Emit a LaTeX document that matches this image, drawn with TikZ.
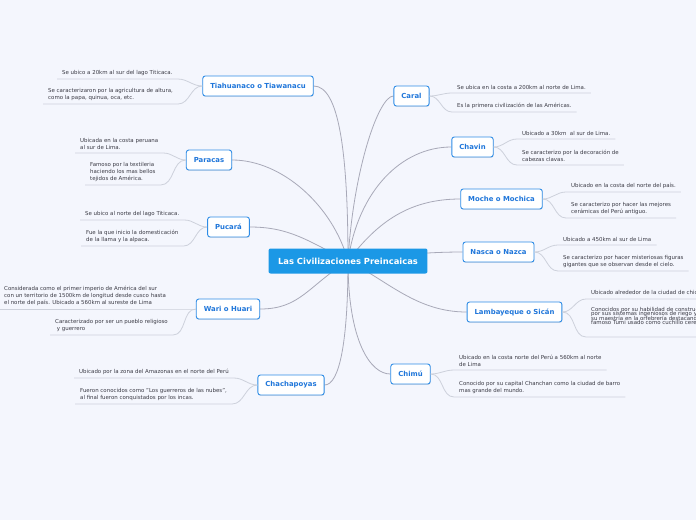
\documentclass[tikz,border=0pt]{standalone}
\usepackage{fontspec}
\setmainfont{DejaVu Sans}
\usepackage{xcolor}
\usetikzlibrary{backgrounds,shadows}
\definecolor{colFondo}{HTML}{F4F6FD}
\definecolor{colAzul}{HTML}{1F76DA}
\definecolor{colBorde}{HTML}{2E8CE6}
\definecolor{colCentro}{HTML}{1B98E6}
\definecolor{colRama}{HTML}{A8A9B8}
\definecolor{colHoja}{HTML}{CDD1DB}
\definecolor{colTexto}{HTML}{3A3A44}
\newcommand\apretado{\lineskiplimit=-20pt\relax}

\begin{document}
\begin{tikzpicture}[
    x=1pt, y=1pt,
    raiz/.style={fill=colCentro, text=white, font=\fontsize{8.4}{9}\selectfont\bfseries,
        rounded corners=2pt, minimum height=25pt, inner xsep=9.5pt},
    tema/.style={draw=colBorde, line width=0.9pt, fill=white, text=colAzul,
        font=\fontsize{6.9}{8}\selectfont\bfseries, rounded corners=2.5pt,
        minimum height=20pt, inner xsep=7.5pt,
        drop shadow={opacity=0.18, shadow xshift=0.4pt, shadow yshift=-0.9pt}},
    hoja/.style={anchor=south west, align=left, text=colTexto,
        font=\fontsize{5.45}{7}\selectfont, inner xsep=5pt, inner ysep=3pt},
    rama/.style={draw=colRama, line width=0.8pt},
    linea/.style={draw=colHoja, line width=0.8pt}
]
\useasboundingbox (0,0) rectangle (696,-520);
\clip (0,0) rectangle (696,-520);

% nodo central
\node[raiz] (cen) at (348,-261) {Las Civilizaciones Preincaicas};

% temas de la izquierda
\node[tema] (tia) at (258,-86) {Tiahuanaco o Tiawanacu};
\node[tema] (par) at (209,-160) {Paracas};
\node[tema] (puc) at (228.5,-227) {Pucará};
\node[tema] (war) at (228,-309) {Wari o Huari};
\node[tema] (cha) at (291,-385) {Chachapoyas};

% temas de la derecha
\node[tema] (car) at (411.5,-96) {Caral};
\node[tema] (chv) at (472.5,-147) {Chavin};
\node[tema] (moc) at (501.5,-199) {Moche o Mochica};
\node[tema] (nas) at (498.5,-252) {Nasca o Nazca};
\node[tema] (lam) at (514.5,-312) {Lambayeque o Sicán};
\node[tema] (chi) at (410.5,-374) {Chimú};

% hojas de la izquierda
\node[hoja] (tl1) at (57,-79) {Se ubico a 20km al sur del lago Titicaca.};
\node[hoja] (tl2) at (43,-104) {Se caracterizaron por la agricultura de altura,\\como la papa, quinua, oca, etc.};
\node[hoja] (pl1) at (75,-153) {Ubicada en la costa peruana\\al sur de Lima.};
\node[hoja] (pl2) at (85,-185) {Famoso por la textileria\\haciendo los mas bellos\\tejidos de América.};
\node[hoja] (ul1) at (80,-220) {Se ubico al norte del lago Titicaca.};
\node[hoja] (ul2) at (81,-246) {Fue la que inicio la domesticación\\de la llama y la alpaca.};
\node[hoja] (wl1) at (-1,-309) {Considerada como el primer imperio de América del sur\\con un territorio de 1500km de longitud desde cusco hasta\\el norte del país. Ubicado a 560km al sureste de Lima};
\node[hoja] (wl2) at (50,-335) {Caracterizado por ser un pueblo religioso\\\ y guerrero};
\node[hoja] (hl1) at (74,-378) {Ubicado por la zona del Amazonas en el norte del Perú};
\node[hoja] (hl2) at (75,-404) {Fueron conocidos como "Los guerreros de las nubes",\\al final fueron conquistados por los incas.};

% hojas de la derecha
\node[hoja] (cl1) at (452,-93) {Se ubica en la costa a 200km al norte de Lima.};
\node[hoja] (cl2) at (452,-112) {Es la primera civilización de las Américas.};
\node[hoja] (vl1) at (517,-139) {Ubicado a 30km\ \ al sur de Lima.};
\node[hoja] (vl2) at (517,-165) {Se caracterizo por la decoración de\\cabezas clavas.};
\node[hoja] (ml1) at (566,-192) {Ubicado en la costa del norte del país.};
\node[hoja] (ml2) at (566,-218) {Se caracterizo por hacer las mejores\\cerámicas del Perú antiguo.};
\node[hoja] (nl1) at (558,-245) {Ubicado a 450km al sur de Lima};
\node[hoja] (nl2) at (558,-271) {Se caracterizo por hacer misteriosas figuras\\gigantes que se observan desde el cielo.};
\node[hoja] (bl1) at (586,-299) {Ubicado alrededor de la ciudad de chiclayo};
\node[hoja, font=\fontsize{5.45}{4.6}\selectfont\apretado] (bl2) at (586,-337) {Conocidos por su habilidad de construcción\\por sus sistemas ingeniosos de riego y\\su maestría en la orfebrería destacando el\\famoso Tumi usado como cuchillo ceremonial\rule[-9pt]{0pt}{0pt}};
\node[hoja] (il1) at (454,-370) {Ubicado en la costa norte del Perú a 560km al norte\\de Lima};
\node[hoja] (il2) at (454,-397) {Conocido por su capital Chanchan como la ciudad de barro\\mas grande del mundo.};

% ramas principales (detras de los nodos)
\begin{scope}[on background layer]
\fill[colFondo] (0,0) rectangle (696,-520);
\draw[rama] (cen.center) .. controls +(0,110) and +(25,0) .. (tia.east);
\draw[rama] (cen.center) .. controls +(-15,55) and +(50,0) .. (par.east);
\draw[rama] (cen.center) .. controls +(-40,20) and +(40,0) .. (puc.east);
\draw[rama] (cen.center) .. controls +(-40,-25) and +(40,0) .. (war.east);
\draw[rama] (cen.center) .. controls +(0,-80) and +(15,0) .. (cha.east);
\draw[rama] (cen.center) .. controls +(5,90) and +(-15,0) .. (car.west);
\draw[rama] (cen.center) .. controls +(10,70) and +(-50,0) .. (chv.west);
\draw[rama] (cen.center) .. controls +(30,40) and +(-50,0) .. (moc.west);
\draw[rama] (cen.center) .. controls +(40,5) and +(-40,0) .. (nas.west);
\draw[rama] (cen.center) .. controls +(40,-20) and +(-50,0) .. (lam.west);
\draw[rama] (cen.center) .. controls +(0,-80) and +(-20,0) .. (chi.west);
\end{scope}

% conexiones con las hojas
\draw[linea] (tia.west) to[out=180,in=0] (tl1.south east) -- (tl1.south west);
\draw[linea] (tia.west) to[out=180,in=0] (tl2.south east) -- (tl2.south west);
\draw[linea] (par.west) to[out=180,in=0] (pl1.south east) -- (pl1.south west);
\draw[linea] (par.west) to[out=180,in=0] (pl2.south east) -- (pl2.south west);
\draw[linea] (puc.west) to[out=180,in=0] (ul1.south east) -- (ul1.south west);
\draw[linea] (puc.west) to[out=180,in=0] (ul2.south east) -- (ul2.south west);
\draw[linea] (war.west) to[out=180,in=0] (wl1.south east) -- (wl1.south west);
\draw[linea] (war.west) to[out=180,in=0] (wl2.south east) -- (wl2.south west);
\draw[linea] (cha.west) to[out=180,in=0] (hl1.south east) -- (hl1.south west);
\draw[linea] (cha.west) to[out=180,in=0] (hl2.south east) -- (hl2.south west);

\draw[linea] (car.east) to[out=0,in=180] (cl1.south west) -- (cl1.south east);
\draw[linea] (car.east) to[out=0,in=180] (cl2.south west) -- (cl2.south east);
\draw[linea] (chv.east) to[out=0,in=180] (vl1.south west) -- (vl1.south east);
\draw[linea] (chv.east) to[out=0,in=180] (vl2.south west) -- (vl2.south east);
\draw[linea] (moc.east) to[out=0,in=180] (ml1.south west) -- (ml1.south east);
\draw[linea] (moc.east) to[out=0,in=180] (ml2.south west) -- (ml2.south east);
\draw[linea] (nas.east) to[out=0,in=180] (nl1.south west) -- (nl1.south east);
\draw[linea] (nas.east) to[out=0,in=180] (nl2.south west) -- (nl2.south east);
\draw[linea] (lam.east) to[out=0,in=180] (bl1.south west) -- (bl1.south east);
\draw[linea] (lam.east) to[out=0,in=180] (bl2.south west) -- (bl2.south east);
\draw[linea] (chi.east) to[out=0,in=180] (il1.south west) -- (il1.south east);
\draw[linea] (chi.east) to[out=0,in=180] (il2.south west) -- (il2.south east);

\end{tikzpicture}
\end{document}
